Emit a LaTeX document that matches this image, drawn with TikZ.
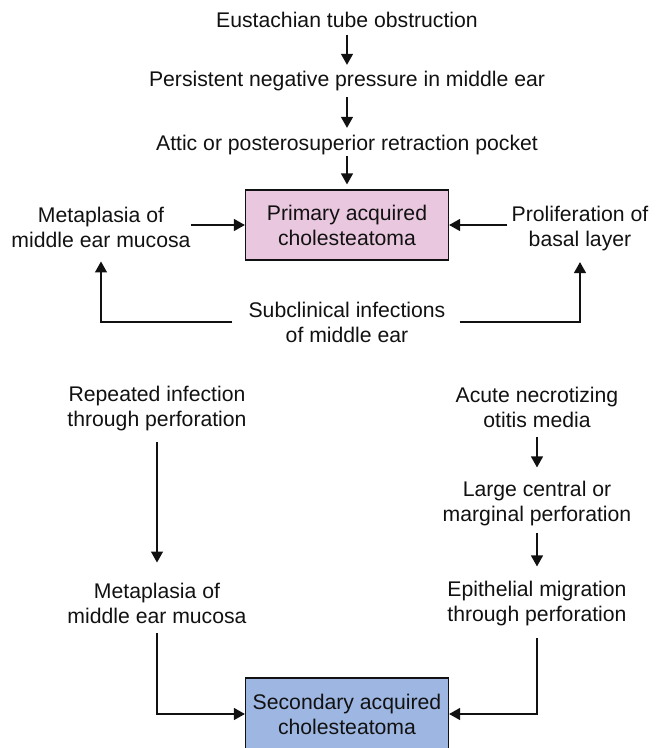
\documentclass[tikz,border=0pt]{standalone}
\usepackage{fontspec}
\setmainfont{Liberation Sans}
\usetikzlibrary{arrows.meta}
\definecolor{ink}{HTML}{111111}
\definecolor{pinkfill}{RGB}{233,199,223}
\definecolor{bluefill}{RGB}{158,182,226}
\begin{document}
\begin{tikzpicture}[x=1pt,y=-1pt,
  txt/.style={inner sep=0pt, align=center, font=\fontsize{21.2}{25}\selectfont, text=ink},
  box/.style={txt, draw=ink, line width=1.2pt, minimum width=203pt, minimum height=70pt},
  arr/.style={draw=ink, line width=1.3pt, -{Triangle[length=11pt,width=12pt]}}]
\useasboundingbox (0,0) rectangle (660,748);
\node[txt, anchor=base] (eto) at (347,27) {Eustachian tube obstruction};
\node[txt, anchor=base] (pnp) at (347,86) {Persistent negative pressure in middle ear};
\node[txt, anchor=base] (arp) at (347,150) {Attic or posterosuperior retraction pocket};
\node[box, fill=pinkfill] (pac) at (347,225) {Primary acquired\\cholesteatoma};
\node[txt] (mm1) at (101,227) {Metaplasia of\\middle ear mucosa};
\node[txt] (pbl) at (580,229) {Proliferation of\\basal layer};
\node[txt] (sci) at (347,322) {Subclinical infections\\of middle ear};
\node[txt] (rip) at (157,409) {Repeated infection\\through perforation};
\node[txt] (anom) at (537,407) {Acute necrotizing\\otitis media};
\node[txt] (lcm) at (537,504) {Large central or\\marginal perforation};
\node[txt] (mm2) at (157,603) {Metaplasia of\\middle ear mucosa};
\node[txt] (emp) at (537,604) {Epithelial migration\\through perforation};
\node[box, fill=bluefill, minimum height=72pt] (sac) at (347,714) {Secondary acquired\\cholesteatoma};
\draw[arr, shorten <=7.5pt, shorten >=5.6pt] (eto) -- (pnp);
\draw[arr, shorten <=6.5pt, shorten >=6.6pt] (pnp) -- (arp);
\draw[arr, shorten <=1.5pt, shorten >=5pt] (arp) -- (pac);
\draw[arr] (mm1.east |- pac.west) -- (pac.west);
\draw[arr, shorten <=4pt] (pbl.west |- pac.east) -- (pac.east);
\draw[arr, shorten <=16pt, shorten >=14pt] (sci.west) -| (mm1.south);
\draw[arr, shorten <=14pt, shorten >=10.5pt] (sci.east) -| (pbl.south);
\draw[arr, shorten <=10.5pt, shorten >=20pt] (rip) -- (mm2);
\draw[arr, shorten <=10pt] (mm2.south) |- (sac.west);
\draw[arr, shorten <=10pt, shorten >=14pt] (anom) -- (lcm);
\draw[arr, shorten <=6.5pt, shorten >=15pt] (lcm) -- (emp);
\draw[arr, shorten <=11.5pt] (emp.south) |- (sac.east);
\end{tikzpicture}
\end{document}
